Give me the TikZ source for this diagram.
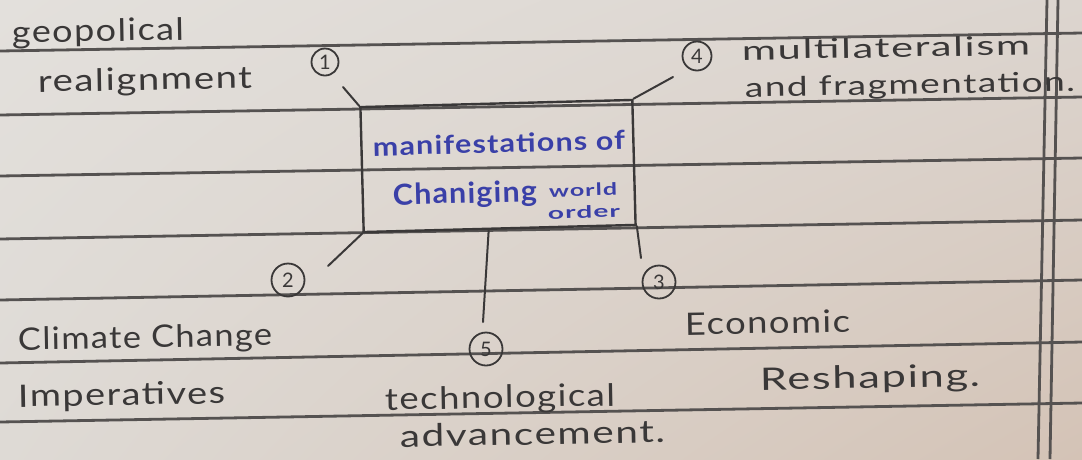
\documentclass[tikz,border=0pt]{standalone}
\usepackage{fontspec}
\usepackage{graphicx}
\setmainfont{Lato}
\newfontfamily\hand[LetterSpace=4]{Lato}
\usetikzlibrary{calc,shadings}
\definecolor{paperTL}{HTML}{E3E0DC}
\definecolor{paperTR}{HTML}{DCD5CF}
\definecolor{paperBL}{HTML}{DEDAD5}
\definecolor{paperBR}{HTML}{D4C3B6}
\definecolor{ruleclr}{HTML}{555251}
\definecolor{penclr}{HTML}{3A3838}
\definecolor{inkblue}{HTML}{3A40A8}
\newcommand{\hw}[2]{\resizebox{#1pt}{\height}{#2}}
\begin{document}
\begin{tikzpicture}[x=1pt,y=-1pt,
  rule/.style={draw=ruleclr, line width=2.8pt},
  pen/.style={draw=penclr, line width=2pt, line cap=round},
  hand/.style={anchor=base west, inner sep=0pt, text=penclr, font=\hand\fontsize{31}{33}\selectfont, rotate=1},
  handsm/.style={hand, font=\hand\fontsize{27}{29}\selectfont},
  ink/.style={anchor=base west, inner sep=0pt, text=inkblue, font=\hand\bfseries\fontsize{26}{28}\selectfont, rotate=1.5},
  inkbig/.style={ink, font=\hand\bfseries\fontsize{29}{31}\selectfont},
  inksmall/.style={ink, font=\hand\bfseries\fontsize{17}{19}\selectfont},
  num/.style={circle, draw=penclr, line width=1.8pt, minimum size=31pt, inner sep=0pt, text=penclr, font=\hand\fontsize{20}{20}\selectfont},
  boxstyle/.style={draw=penclr, line width=2.4pt, minimum width=272pt, minimum height=125pt, inner sep=0pt, rotate=1.5}
  ]
\useasboundingbox (0,0) rectangle (1082,459);
\shade[upper left=paperTL, upper right=paperTR, lower left=paperBL, lower right=paperBR] (0,0) rectangle (1082,459);
% ruled lines
\draw[rule] (0,51) -- (1082,33);
\draw[rule] (0,115) -- (1082,97);
\draw[rule] (0,176) -- (1082,158);
\draw[rule] (0,239) -- (1082,220);
\draw[rule] (0,300) -- (1082,280);
\draw[rule] (0,363) -- (1082,342);
\draw[rule] (0,422) -- (1082,403);
\draw[rule] (1047,0) -- (1038,459);
\draw[rule] (1058,0) -- (1050,459);
% central box
\node[boxstyle] (box) at (498,166) {};
\node[ink] (m1) at (373,156) {\hw{252}{manifestations of}};
\node[inkbig] (m2) at (393,205) {\hw{144}{Chaniging}};
\node[inksmall] (m3) at (549,197) {\hw{68}{world}};
\node[inksmall] (m4) at (548,219) {\hw{72}{order}};
% connectors
\coordinate (e1) at (343,87);
\coordinate (e4) at (673,77);
\coordinate (e2) at (328,266);
\coordinate (e3) at (641,258);
\coordinate (e5) at (483,322);
\draw[pen] (box.north west) -- (e1);
\draw[pen] (box.north east) -- (e4);
\draw[pen] (box.south west) -- (e2);
\draw[pen] (box.south east) -- (e3);
\draw[pen] ($(box.south west)!0.46!(box.south east)$) -- (e5);
% numbers
\node[num, minimum size=27pt] (n1) at (325,62) {1};
\node[num, minimum size=29pt] (n4) at (697,56) {4};
\node[num, minimum size=33pt] (n2) at (288,280) {2};
\node[num, minimum size=33pt] (n5) at (486,349) {5};
\node[num, minimum size=33pt] (n3) at (659,282) {3};
% labels
\node[hand] (t1a) at (12,43) {\hw{172}{geopolical}};
\node[hand] (t1b) at (38,92) {\hw{214}{realignment}};
\node[handsm] (t4a) at (742,60) {\hw{288}{multilateralism}};
\node[handsm] (t4b) at (745,97) {\hw{330}{and fragmentation.}};
\node[hand] (t2a) at (18,350) {\hw{254}{Climate Change}};
\node[hand] (t2b) at (18,407) {\hw{207}{Imperatives}};
\node[hand] (t5a) at (385,410) {\hw{230}{technological}};
\node[hand] (t5b) at (400,447) {\hw{265}{advancement.}};
\node[hand] (t3a) at (685,335) {\hw{165}{Economic}};
\node[hand] (t3b) at (760,390) {\hw{220}{Reshaping.}};
\end{tikzpicture}
\end{document}
